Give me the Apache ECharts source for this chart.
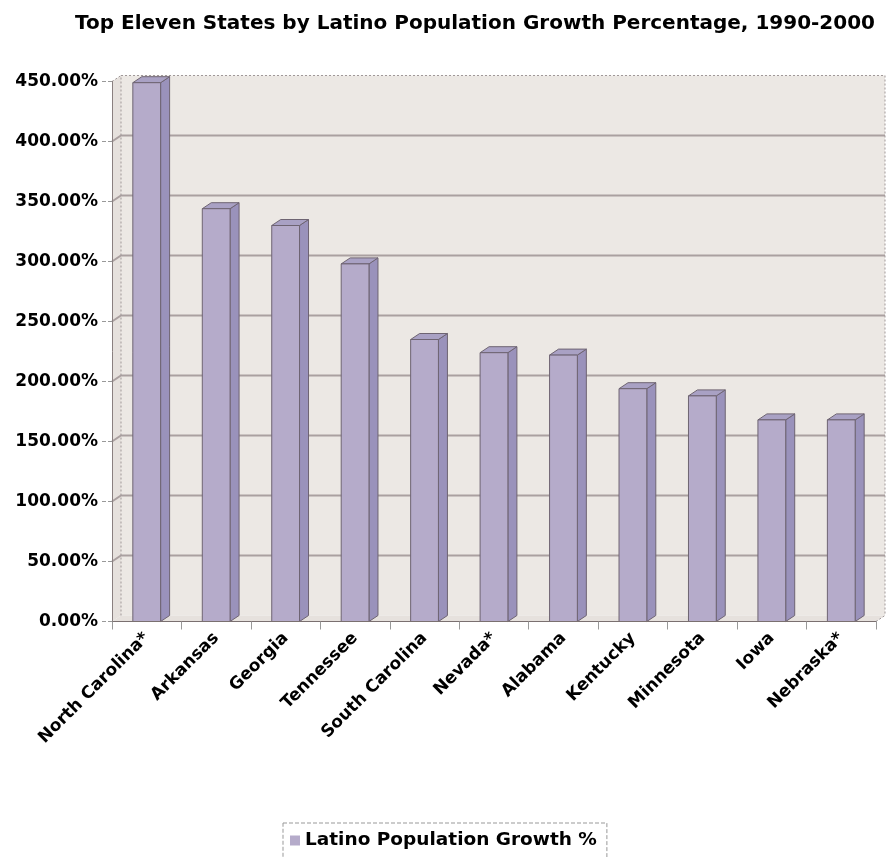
<!DOCTYPE html>
<html>
<head>
<meta charset="utf-8">
<script src="https://cdn.jsdelivr.net/npm/echarts@6/dist/echarts.min.js"></script>
<style>html,body{margin:0;padding:0;background:#fff;}#c{width:886px;height:857px;}</style>
</head>
<body>
<div id="c"></div>
<script>
const titleText = 'Top Eleven States by Latino Population Growth Percentage, 1990-2000';
const seriesName = 'Latino Population Growth %';
const categories = ['North Carolina*', 'Arkansas', 'Georgia', 'Tennessee', 'South Carolina', 'Nevada*', 'Alabama', 'Kentucky', 'Minnesota', 'Iowa', 'Nebraska*'];
const growthPct = [449, 344, 330, 298, 235, 224, 222, 194, 188, 168, 168];
const yTicks = [0, 50, 100, 150, 200, 250, 300, 350, 400, 450];

const DX = 9, DY = 6;
const FONT = 'DejaVu Sans';

function renderWalls(params, api) {
  const band = api.size([1, 0])[0];
  const left = api.coord([0, 0])[0] - band / 2;
  const right = api.coord([categories.length - 1, 0])[0] + band / 2;
  const y0 = api.coord([0, yTicks[0]])[1];
  const yTop = api.coord([0, yTicks[yTicks.length - 1]])[1];
  const children = [];
  children.push({type: 'rect', shape: {x: left + DX, y: yTop - DY, width: right - left, height: y0 - yTop},
    style: {fill: '#ece8e4', stroke: null}});
  children.push({type: 'polygon', shape: {points: [[left, yTop], [left + DX, yTop - DY], [left + DX, y0 - DY], [left, y0]]},
    style: {fill: '#e6e1dd', stroke: null}});
  children.push({type: 'polygon', shape: {points: [[left, y0], [left + DX, y0 - DY], [right + DX, y0 - DY], [right, y0]]},
    style: {fill: '#e6e1dd', stroke: null}});
  yTicks.forEach(function (v, i) {
    if (i === 0 || i === yTicks.length - 1) return;
    const y = api.coord([0, v])[1];
    children.push({type: 'polyline', shape: {points: [[left, y], [left + DX, y - DY], [right + DX, y - DY]]},
      style: {stroke: '#aaa0a0', lineWidth: 2, fill: null}});
  });
  children.push({type: 'polyline', shape: {points: [[left + DX, y0 - DY], [left + DX, yTop - DY], [right + DX, yTop - DY], [right + DX, y0 - DY]]},
    style: {stroke: '#a09898', lineWidth: 1, lineDash: [2, 2], fill: null}});
  children.push({type: 'line', shape: {x1: left, y1: yTop, x2: left + DX, y2: yTop - DY},
    style: {stroke: '#a09898', lineWidth: 1, lineDash: [2, 2]}});
  children.push({type: 'line', shape: {x1: right, y1: y0, x2: right + DX, y2: y0 - DY},
    style: {stroke: '#a09898', lineWidth: 1, lineDash: [2, 2]}});
  return {type: 'group', children: children};
}

function renderBar(params, api) {
  const idx = api.value(0);
  const v = api.value(1);
  const base = api.coord([idx, 0]);
  const top = api.coord([idx, v]);
  const bw = api.size([1, 0])[0] * 0.40;
  const x0 = base[0] - bw / 2, x1 = base[0] + bw / 2;
  const y0 = base[1], y1 = top[1];
  const stroke = '#6e6472';
  return {
    type: 'group',
    children: [
      {type: 'polygon', shape: {points: [[x1, y1], [x1 + DX, y1 - DY], [x1 + DX, y0 - DY], [x1, y0]]},
        style: {fill: '#9a92bb', stroke: stroke, lineWidth: 1}},
      {type: 'polygon', shape: {points: [[x0, y1], [x0 + DX, y1 - DY], [x1 + DX, y1 - DY], [x1, y1]]},
        style: {fill: '#a9a1c4', stroke: stroke, lineWidth: 1}},
      {type: 'rect', shape: {x: x0, y: y1, width: bw, height: y0 - y1},
        style: {fill: '#b5abca', stroke: stroke, lineWidth: 1}}
    ]
  };
}

const chart = echarts.init(document.getElementById('c'), null, {renderer: 'canvas'});
chart.setOption({
  animation: false,
  backgroundColor: '#ffffff',
  title: {
    text: titleText,
    left: 470,
    textAlign: 'center',
    top: 9,
    textStyle: {fontFamily: FONT, fontWeight: 'bold', fontSize: 20, color: '#000'}
  },
  legend: {
    data: [{name: seriesName, icon: 'rect'}],
    left: 283,
    top: 823,
    padding: [8, 10, 20, 7],
    itemWidth: 10,
    itemHeight: 10,
    borderColor: '#999',
    borderWidth: 1,
    borderType: 'dashed',
    textStyle: {fontFamily: FONT, fontWeight: 'bold', fontSize: 18.5, color: '#000'}
  },
  grid: {left: 112, right: 10, top: 81.5, bottom: 235.5, containLabel: false},
  xAxis: {
    type: 'category',
    data: categories,
    z: 5,
    axisLine: {lineStyle: {color: '#7a7070', width: 1}},
    axisTick: {show: true, length: 8, lineStyle: {color: '#999'}},
    axisLabel: {rotate: 45, margin: 14, interval: 0, fontFamily: FONT, fontWeight: 'bold', fontSize: 17, color: '#000'},
    splitLine: {show: false}
  },
  yAxis: {
    type: 'value',
    min: 0,
    max: 450,
    interval: 50,
    z: 5,
    axisLine: {show: true, lineStyle: {color: '#8a8080', width: 1}},
    axisTick: {show: true, length: 10, lineStyle: {color: '#999', type: 'dashed'}},
    axisLabel: {margin: 14, fontFamily: FONT, fontWeight: 'bold', fontSize: 17, color: '#000',
      formatter: function (v) { return v.toFixed(2) + '%'; }},
    splitLine: {show: false}
  },
  series: [
    {
      type: 'custom',
      name: 'walls',
      silent: true,
      z: 1,
      renderItem: renderWalls,
      data: [[0, 0]],
      encode: {x: 0, y: 1}
    },
    {
      type: 'custom',
      name: seriesName,
      z: 3,
      itemStyle: {color: '#b5abca'},
      renderItem: renderBar,
      data: categories.map(function (c, i) { return [i, growthPct[i]]; }),
      encode: {x: 0, y: 1}
    }
  ]
});
</script>
</body>
</html>
